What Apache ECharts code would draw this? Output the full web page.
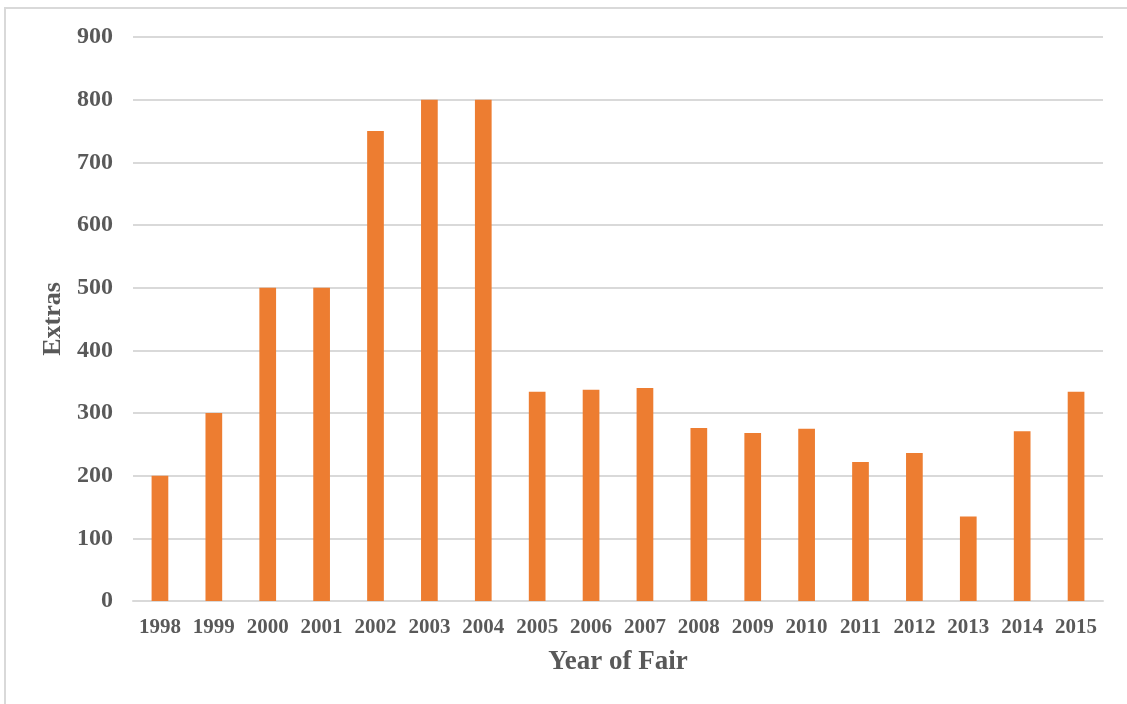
<!DOCTYPE html>
<html>
<head>
<meta charset="utf-8">
<style>
  html, body { margin: 0; padding: 0; background: #ffffff; }
  #chart { width: 1127px; height: 704px; }
</style>
<script src="https://cdn.jsdelivr.net/npm/echarts@6/dist/echarts.min.js"></script>
</head>
<body>
<div id="chart"></div>
<script>
// Extras hired per year of the fair
const years = ['1998', '1999', '2000', '2001', '2002', '2003', '2004', '2005', '2006',
               '2007', '2008', '2009', '2010', '2011', '2012', '2013', '2014', '2015'];
const extras = [200, 300, 500, 500, 750, 800, 800, 334, 337,
                340, 276, 268, 275, 222, 236, 135, 271, 334];
const yTicks = { min: 0, max: 900, interval: 100 };

const textColor = '#595959';
const fontFamily = '"Liberation Serif", "Times New Roman", serif';

const chart = echarts.init(document.getElementById('chart'), null, { renderer: 'canvas' });
chart.setOption({
  animation: false,
  backgroundColor: '#ffffff',
  graphic: [{
    type: 'rect',
    shape: { x: 5, y: 8, width: 1200, height: 800 },
    style: { fill: 'none', stroke: '#d9d9d9', lineWidth: 2 },
    silent: true
  }],
  grid: { left: 133, right: 24, top: 37, bottom: 103, containLabel: false },
  xAxis: {
    type: 'category',
    data: years,
    name: 'Year of Fair',
    nameLocation: 'middle',
    nameGap: 48,
    nameTextStyle: { color: textColor, fontFamily, fontWeight: 'bold', fontSize: 27 },
    axisLine: { show: true, lineStyle: { color: '#d9d9d9', width: 2 } },
    axisTick: { show: false },
    axisLabel: { color: textColor, fontFamily, fontWeight: 'bold', fontSize: 21, margin: 16, interval: 0 }
  },
  yAxis: {
    type: 'value',
    min: yTicks.min,
    max: yTicks.max,
    interval: yTicks.interval,
    name: 'Extras',
    nameLocation: 'middle',
    nameGap: 61,
    nameRotate: 90,
    nameTextStyle: { color: textColor, fontFamily, fontWeight: 'bold', fontSize: 26 },
    axisLine: { show: false },
    axisTick: { show: false },
    axisLabel: { color: textColor, fontFamily, fontWeight: 'bold', fontSize: 24, margin: 20 },
    splitLine: { lineStyle: { color: '#d9d9d9', width: 2 } }
  },
  series: [{
    type: 'bar',
    data: extras,
    barWidth: '31%',
    itemStyle: { color: '#ED7D31' }
  }]
});
</script>
</body>
</html>
